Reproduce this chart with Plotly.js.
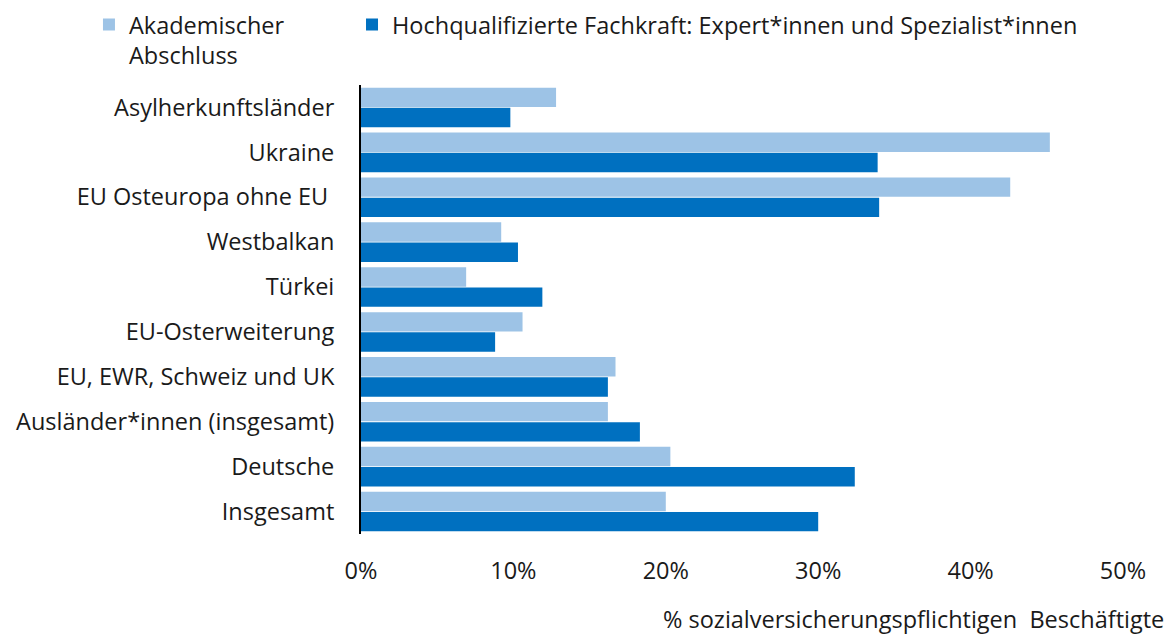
<!DOCTYPE html>
<html><head><meta charset="utf-8">
<script src="https://cdn.plot.ly/plotly-3.0.1.min.js"></script>
<style>html,body{margin:0;padding:0;background:#fff;}#chart{width:1173px;height:636px;}</style>
</head><body><div id="chart"></div>
<script>
const categories = ["Asylherkunftsländer","Ukraine","EU Osteuropa ohne EU ","Westbalkan","Türkei","EU-Osterweiterung","EU, EWR, Schweiz und UK","Ausländer*innen (insgesamt)","Deutsche","Insgesamt"];
const akademisch = [0.128, 0.452, 0.426, 0.092, 0.069, 0.106, 0.167, 0.162, 0.203, 0.200];
const hochqualifiziert = [0.098, 0.339, 0.340, 0.103, 0.119, 0.088, 0.162, 0.183, 0.324, 0.300];
const seriesNames = ["Akademischer<br>Abschluss", "Hochqualifizierte Fachkraft: Expert*innen und Spezialist*innen"];
const xTitle = "% sozialversicherungspflichtigen&nbsp; Beschäftigte";

const font = "'Open Sans', sans-serif";
const fs = 23.5;
const traces = [
  {type:'bar', orientation:'h', y:categories, x:akademisch, name:seriesNames[0], legend:'legend',
   marker:{color:'#9DC3E6', line:{width:0}}, hoverinfo:'skip'},
  {type:'bar', orientation:'h', y:categories, x:hochqualifiziert, name:seriesNames[1], legend:'legend2',
   marker:{color:'#0070C0', line:{width:0}}, hoverinfo:'skip'}
];
const legendBase = {orientation:'h', xanchor:'left', y:1.183, yanchor:'top', yref:'paper',
          font:{size:fs}, itemwidth:30, valign:'top', bgcolor:'rgba(0,0,0,0)'};
const layout = {
  width:1173, height:636,
  margin:{l:361, r:50, t:85, b:102, autoexpand:false},
  paper_bgcolor:'#fff', plot_bgcolor:'#fff',
  font:{family:font, size:fs, color:'#1a1a1a'},
  barmode:'group', bargap:0.1, bargroupgap:0.04,
  showlegend:true,
  legend:Object.assign({}, legendBase, {x:-0.357}),
  legend2:Object.assign({}, legendBase, {x:-0.0118}),
  xaxis:{range:[0,0.5], tickformat:'.0%', dtick:0.1, showgrid:false, zeroline:false,
         showline:false, ticks:'', ticklabelstandoff:20, fixedrange:true},
  yaxis:{type:'category', autorange:'reversed', showline:true, linecolor:'#000', linewidth:2,
         ticks:'', ticklabelstandoff:20, showgrid:false, fixedrange:true},
  annotations:[{text:xTitle, xref:'paper', yref:'paper', x:1.057, y:-0.189, xanchor:'right', yanchor:'middle',
                showarrow:false, font:{size:fs}}]
};
Plotly.newPlot('chart', traces, layout, {displayModeBar:false, staticPlot:true});
</script></body></html>
